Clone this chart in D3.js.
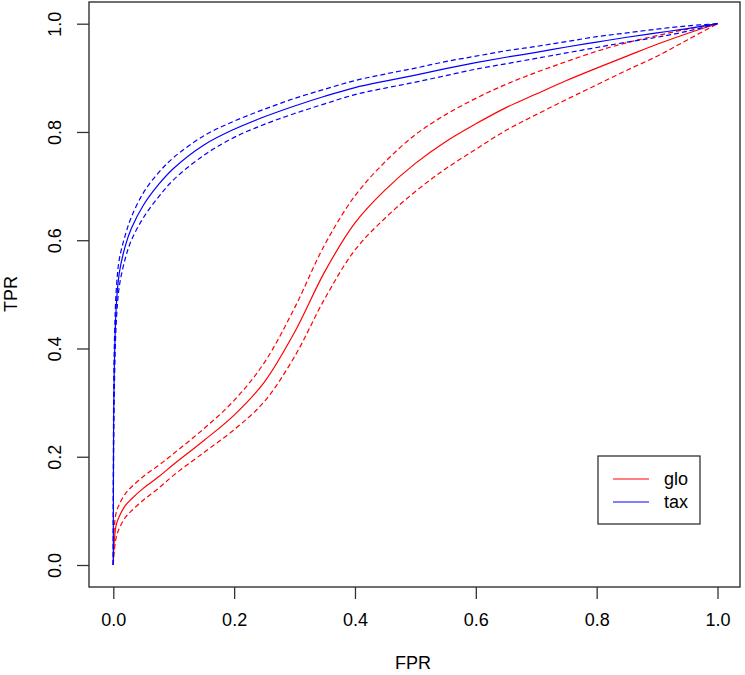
<!DOCTYPE html>
<html>
<head>
<meta charset="utf-8">
<script src="https://cdn.jsdelivr.net/npm/d3@7"></script>
<style>
	body { margin: 0; background: #fff; }
	svg text { font-family: "Liberation Sans", Arial, sans-serif; fill: #000; }
</style>
</head>
<body>
<div id="roc_graph"></div>
<script>
// false positive rate grid shared by all curves
var fpr = [ 0, 0.0005, 0.002, 0.005, 0.01, 0.02, 0.03, 0.05, 0.075, 0.1, 0.15, 0.2, 0.25, 0.3,
	0.35, 0.4, 0.45, 0.5, 0.55, 0.6, 0.65, 0.7, 0.75, 0.8, 0.85, 0.9, 0.95, 1 ];

// glo (red) - mean and band
var gloTpr = [ 0, 0.02, 0.05, 0.075, 0.09, 0.11, 0.122, 0.142, 0.163, 0.186, 0.23, 0.277, 0.338, 0.43,
	0.542, 0.632, 0.693, 0.742, 0.782, 0.815, 0.845, 0.87, 0.895, 0.918, 0.94, 0.962, 0.982, 1 ];
var gloHi = [ 0, 0.04, 0.075, 0.098, 0.112, 0.132, 0.144, 0.164, 0.184, 0.206, 0.252, 0.304, 0.374, 0.475,
	0.592, 0.682, 0.745, 0.795, 0.832, 0.862, 0.888, 0.91, 0.93, 0.949, 0.965, 0.978, 0.99, 1 ];
var gloLo = [ 0, 0.01, 0.03, 0.052, 0.068, 0.088, 0.1, 0.12, 0.142, 0.166, 0.208, 0.25, 0.302, 0.385,
	0.492, 0.582, 0.641, 0.69, 0.732, 0.768, 0.803, 0.832, 0.86, 0.887, 0.914, 0.94, 0.97, 1 ];

// tax (blue) - mean and band
var taxTpr = [ 0, 0.25, 0.38, 0.48, 0.54, 0.59, 0.622, 0.665, 0.703, 0.733, 0.776, 0.805, 0.828, 0.848,
	0.866, 0.882, 0.894, 0.905, 0.917, 0.928, 0.938, 0.947, 0.957, 0.966, 0.975, 0.983, 0.991, 1 ];
var taxHi = [ 0, 0.30, 0.42, 0.51, 0.565, 0.61, 0.643, 0.688, 0.725, 0.753, 0.793, 0.82, 0.842, 0.862,
	0.879, 0.895, 0.907, 0.918, 0.93, 0.94, 0.95, 0.958, 0.967, 0.976, 0.983, 0.99, 0.996, 1 ];
var taxLo = [ 0, 0.20, 0.34, 0.45, 0.515, 0.567, 0.6, 0.642, 0.68, 0.712, 0.757, 0.79, 0.814, 0.834,
	0.852, 0.869, 0.881, 0.892, 0.904, 0.916, 0.926, 0.936, 0.946, 0.956, 0.966, 0.975, 0.986, 1 ];

var ticks = [ 0, 0.2, 0.4, 0.6, 0.8, 1.0 ];
var legendNames = [ "glo", "tax" ];
var legendColors = [ "#ff0000", "#0000ff" ];

var width = 745,
	height = 675;

var x = d3.scaleLinear()
	.domain( [ 0, 1 ] )
	.range( [ 113.3, 717.5 ] );

var y = d3.scaleLinear()
	.domain( [ 0, 1 ] )
	.range( [ 565, 23.7 ] );

var svg = d3.select( "#roc_graph" )
	.append( "svg" )
	.attr( "width", width )
	.attr( "height", height );

// plot box (R style, 4% padding)
svg.append( "rect" )
	.attr( "x", 89 )
	.attr( "y", 2 )
	.attr( "width", 651 )
	.attr( "height", 585 )
	.style( "fill", "none" )
	.style( "stroke", "#222" )
	.style( "stroke-width", 1.3 );

// x axis
var xAxis = d3.axisBottom( x )
	.tickValues( ticks )
	.tickSize( 12 )
	.tickPadding( 14 )
	.tickFormat( d3.format( ".1f" ) );

var gx = svg.append( "g" )
	.attr( "transform", "translate(0,587)" )
	.call( xAxis );
gx.select( ".domain" ).remove();
gx.selectAll( "line" ).style( "stroke", "#333" ).style( "stroke-width", 1.3 );
gx.selectAll( "text" ).style( "font-size", "18px" );

// y axis
var yAxis = d3.axisLeft( y )
	.tickValues( ticks )
	.tickSize( 12 )
	.tickFormat( d3.format( ".1f" ) );

var gy = svg.append( "g" )
	.attr( "transform", "translate(89,0)" )
	.call( yAxis );
gy.select( ".domain" ).remove();
gy.selectAll( "line" ).style( "stroke", "#333" ).style( "stroke-width", 1.3 );
gy.selectAll( "text" )
	.style( "font-size", "18px" )
	.attr( "x", null )
	.attr( "dy", null )
	.style( "text-anchor", "middle" )
	.attr( "transform", "translate(-28,0) rotate(-90)" );

// axis titles
svg.append( "text" )
	.attr( "x", 413 )
	.attr( "y", 669 )
	.style( "text-anchor", "middle" )
	.style( "font-size", "18px" )
	.text( "FPR" );

svg.append( "text" )
	.attr( "transform", "translate(17,294) rotate(-90)" )
	.style( "text-anchor", "middle" )
	.style( "font-size", "18px" )
	.text( "TPR" );

// curves
var line = d3.line()
	.x( function( d ) { return x( d[ 0 ] ); } )
	.y( function( d ) { return y( d[ 1 ] ); } )
	.curve( d3.curveCatmullRom.alpha( 0.5 ) );

var curves = [
	{ vals: gloHi, color: "#ff0000", dash: "5,3" },
	{ vals: gloLo, color: "#ff0000", dash: "5,3" },
	{ vals: gloTpr, color: "#ff0000", dash: null },
	{ vals: taxHi, color: "#0000ff", dash: "5,3" },
	{ vals: taxLo, color: "#0000ff", dash: "5,3" },
	{ vals: taxTpr, color: "#0000ff", dash: null }
];

var plot = svg.append( "g" );

plot.selectAll( ".curve" )
	.data( curves )
	.enter()
	.append( "path" )
	.attr( "class", "curve" )
	.attr( "d", function( c ) {
		return line( fpr.map( function( f, i ) { return [ f, c.vals[ i ] ]; } ) );
	} )
	.style( "fill", "none" )
	.style( "stroke", function( c ) { return c.color; } )
	.style( "stroke-width", 1.2 )
	.style( "stroke-dasharray", function( c ) { return c.dash; } );

// legend
var legend = svg.append( "g" );

legend.append( "rect" )
	.attr( "x", 598 )
	.attr( "y", 456 )
	.attr( "width", 102 )
	.attr( "height", 68 )
	.style( "fill", "#fff" )
	.style( "stroke", "#222" )
	.style( "stroke-width", 1.2 );

legendNames.forEach( function( name, i ) {
	var ly = 479 + i * 23;
	legend.append( "line" )
		.attr( "x1", 613 )
		.attr( "x2", 649 )
		.attr( "y1", ly )
		.attr( "y2", ly )
		.style( "stroke", legendColors[ i ] )
		.style( "stroke-width", 1.2 );
	legend.append( "text" )
		.attr( "x", 664 )
		.attr( "y", ly + 6 )
		.style( "font-size", "18px" )
		.text( name );
} );
</script>
</body>
</html>
